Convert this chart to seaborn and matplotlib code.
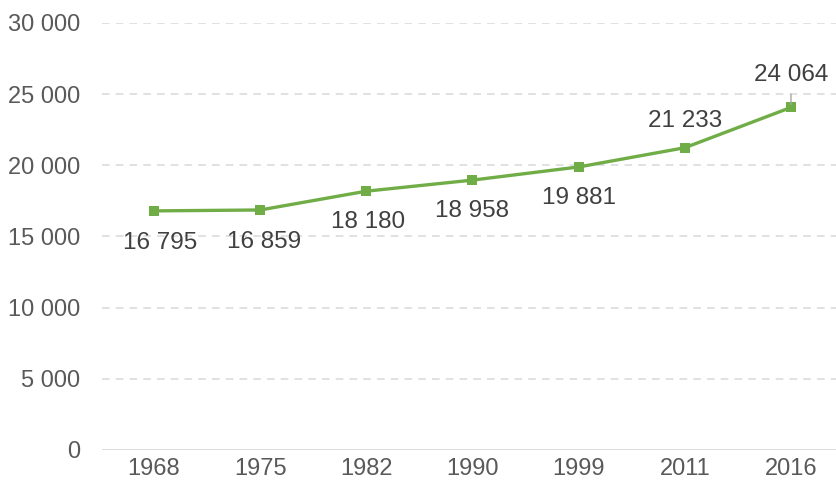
import numpy as np
import pandas as pd
import matplotlib
matplotlib.use("Agg")
import matplotlib.pyplot as plt
import seaborn as sns

sns.set_style("white")
plt.rcParams['font.family'] = ['Liberation Sans', 'DejaVu Sans']

years = ["1968", "1975", "1982", "1990", "1999", "2011", "2016"]
population = [16795, 16859, 18180, 18958, 19881, 21233, 24064]
labels = ["16 795", "16 859", "18 180", "18 958", "19 881", "21 233", "24 064"]
# label offset in pixels (dx, dy), negative dy = below
offsets = [(6, -32), (4, -32), (2, -31), (0, -31), (0, -31), (0, 27), (0, 32)]

df = pd.DataFrame({"year": years, "pop": population})

fig = plt.figure(figsize=(8.36, 4.88), dpi=100)
ax = fig.add_axes([0.122, 0.078, 0.878, 0.875])

green = "#70AD47"
sns.lineplot(data=df, x="year", y="pop", ax=ax, color=green, linewidth=2.4,
             marker="s", markersize=7, markeredgewidth=0, sort=False)

ax.set_ylim(0, 30000)
ax.set_xlim(-0.49, 6.424)
ax.set_yticks(range(0, 30001, 5000))
ax.set_yticklabels(["0" if v == 0 else f"{v//1000} 000" for v in range(0, 30001, 5000)])

for v in range(5000, 30001, 5000):
    ax.axhline(v, color="#D9D9D9", linewidth=1.1, linestyle=(0, (5, 4)), zorder=0)
ax.axhline(0, color="#D9D9D9", linewidth=1.3, zorder=0)

for s in ax.spines.values():
    s.set_visible(False)

ax.tick_params(axis="both", length=0, labelsize=17, colors="#595959")
ax.tick_params(axis="x", pad=6)
ax.tick_params(axis="y", pad=16)
ax.set_xlabel("")
ax.set_ylabel("")

for i, (lab, (dx, dy)) in enumerate(zip(labels, offsets)):
    ax.annotate(lab, (i, population[i]), xytext=(dx * 0.72, dy * 0.72),
                textcoords="offset points", ha="center", va="center",
                fontsize=17.5, color="#404040")

# leader line for the last label
ax.annotate("", (len(years) - 1, population[-1]), xytext=(0, 16 * 0.72),
            textcoords="offset points",
            arrowprops=dict(arrowstyle="-", color="#A6A6A6", lw=1))

fig.savefig("out.png", dpi=100)
